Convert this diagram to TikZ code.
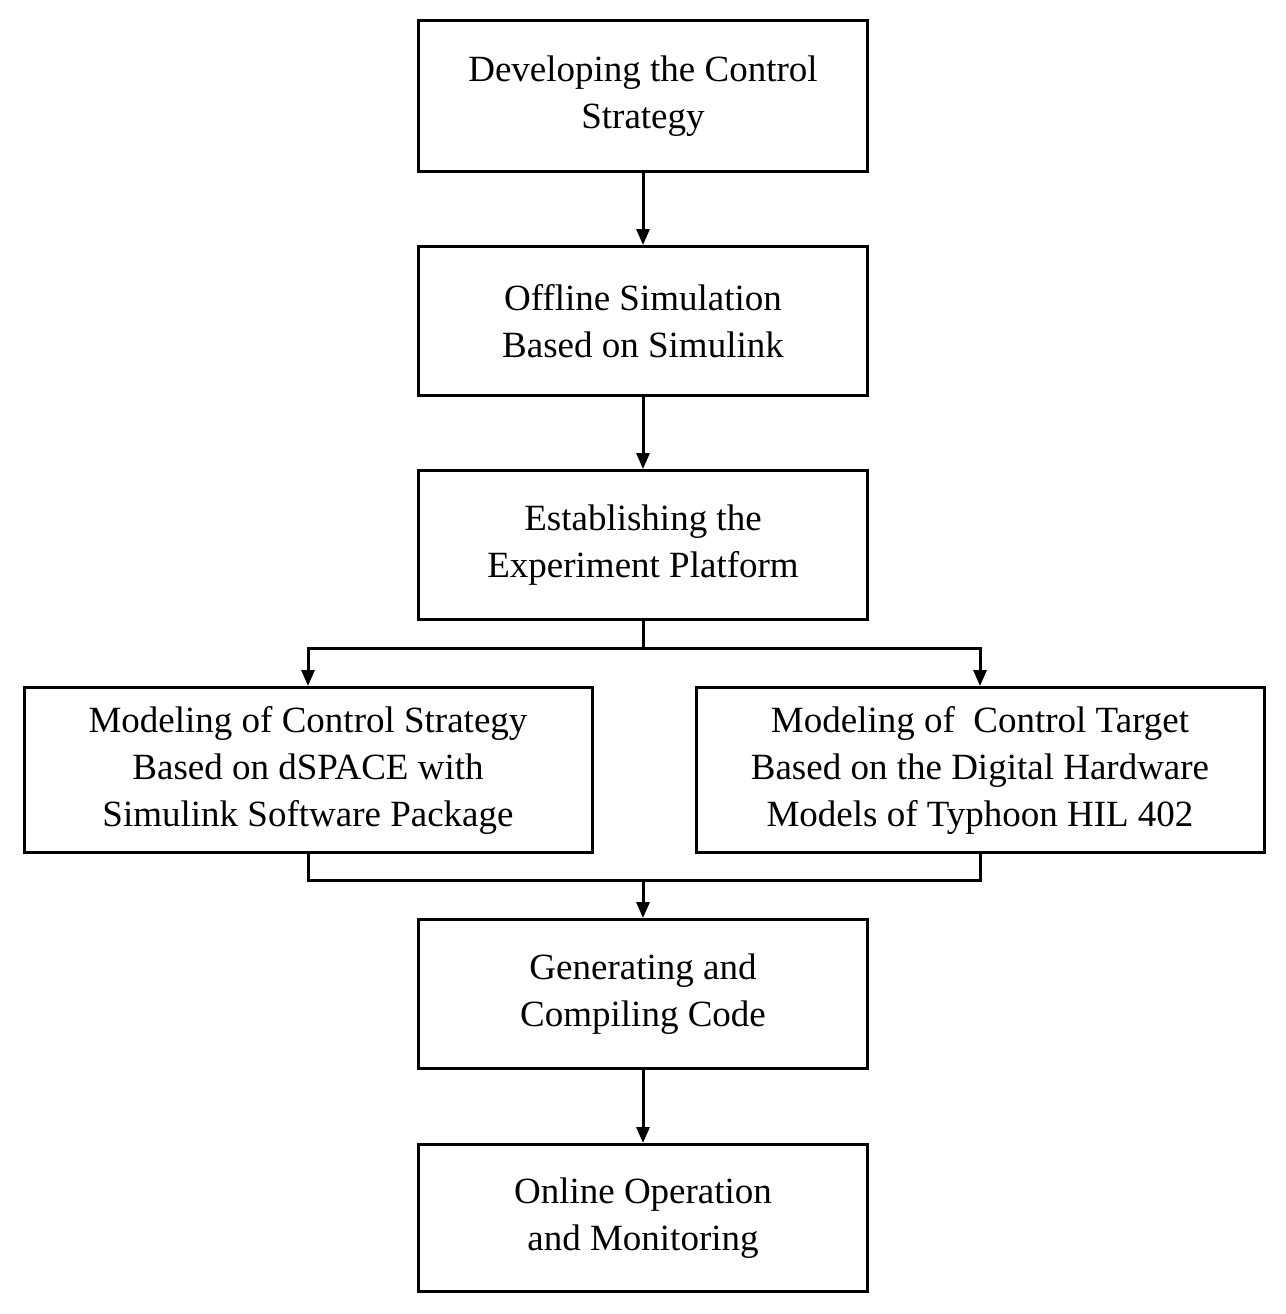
\documentclass[tikz,border=0pt]{standalone}
\usepackage{fontspec}
\setmainfont{Liberation Serif}
\usetikzlibrary{arrows.meta}
\begin{document}
\begin{tikzpicture}[x=1pt,y=-1pt,
  box/.style={draw,line width=3pt,align=center,inner sep=0pt,font=\fontsize{37}{47}\selectfont},
  arr/.style={line width=3pt,-{Triangle[length=16pt,width=13pt]}},
  ln/.style={line width=3pt}]
\useasboundingbox (0,0) rectangle (1285,1314);
\node[box,minimum width=449pt,minimum height=151pt] (a) at (643,96) {Developing the Control\\Strategy};
\node[box,minimum width=449pt,minimum height=149pt] (b) at (643,321) {Offline Simulation\\Based on Simulink};
\node[box,minimum width=449pt,minimum height=149pt] (c) at (643,545) {Establishing the\\Experiment Platform};
\node[box,minimum width=568pt,minimum height=165pt] (d) at (308,770) {Modeling of Control Strategy\\Based on dSPACE with\\Simulink Software Package};
\node[box,minimum width=568pt,minimum height=165pt] (e) at (980,770) {Modeling of\ \ Control Target\\Based on the Digital Hardware\\Models of Typhoon HIL 402};
\node[box,minimum width=449pt,minimum height=149pt] (f) at (643,994) {Generating and\\Compiling Code};
\node[box,minimum width=449pt,minimum height=147pt] (g) at (643,1218) {Online Operation\\and Monitoring};
\coordinate (s) at (643,648);
\coordinate (m) at (643,880);
\draw[arr] (a) -- (b);
\draw[arr] (b) -- (c);
\draw[ln] (c.south) -- (s);
\draw[arr] (s) -| (d.north);
\draw[arr] (s) -| (e.north);
\draw[ln] (d.south) |- (m);
\draw[ln] (e.south) |- (m);
\draw[arr] (m) -- (f.north);
\draw[arr] (f) -- (g);
\end{tikzpicture}
\end{document}
